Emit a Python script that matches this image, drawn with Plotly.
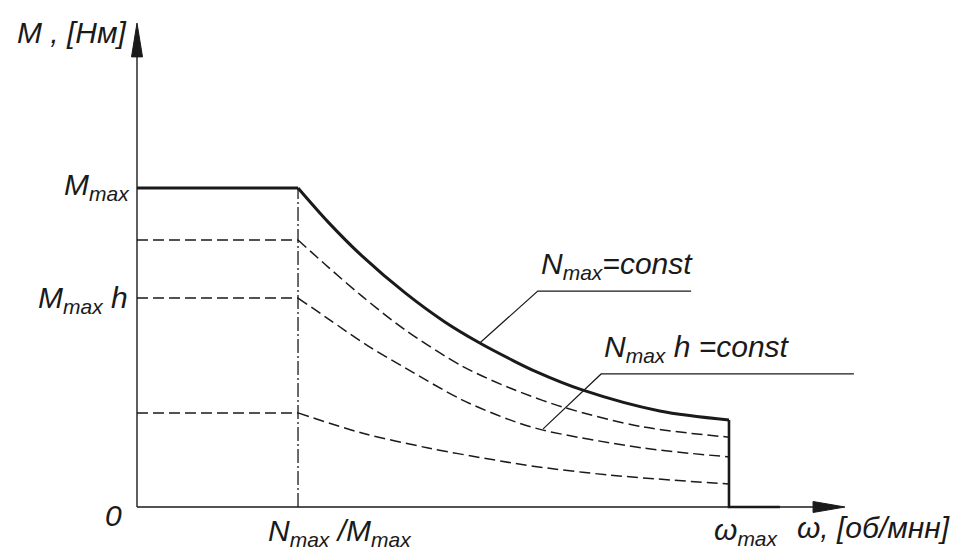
import plotly.graph_objects as go

# ---------------- data ----------------
M_max = 100.0            # torque level M_max
omega_knee = 27.2        # N_max / M_max
omega_max = 100.0        # ω_max
omega_axis_end = 108.6   # end of bold segment on ω axis

# full power curve N_max = const
full_omega = [27.2, 32.3, 38.0, 45.3, 52.0, 57.9, 63.0, 67.2, 75.2, 88.3, 100.0]
full_M = [100.0, 89.3, 78.7, 67.1, 58.0, 51.4, 46.4, 42.6, 36.7, 30.1, 27.3]

# partial power curves N_max h = const (dashed)
h1_omega = [27.2, 32.3, 38.0, 45.3, 54.9, 63.0, 72.0, 85.5, 100.0]
h1_M = [83.7, 75.2, 66.1, 55.5, 44.2, 37.3, 31.3, 25.1, 21.9]

h2_omega = [27.2, 32.3, 39.0, 45.3, 54.9, 63.0, 68.6, 85.5, 100.0]
h2_M = [65.5, 59.0, 50.5, 43.6, 33.6, 27.3, 24.1, 18.5, 15.7]

h3_omega = [27.2, 38.0, 49.2, 60.5, 66.9, 79.9, 100.0]
h3_M = [29.5, 23.2, 18.5, 14.7, 12.8, 10.0, 7.2]

# leader lines for the curve labels
leader_full_omega = [57.9, 67.7, 93.6]
leader_full_M = [51.4, 67.7, 67.7]
leader_h_omega = [68.6, 78.4, 121.1]
leader_h_M = [24.5, 41.7, 41.7]

# axis extents
omega_arrow_base, omega_arrow_tip = 114.2, 119.6
M_arrow_base, M_arrow_tip = 141.1, 151.7

# ---------------- figure ----------------
INK = "#1a1a1a"
THIN = 1.5
BOLD = 3.0
DASH = "11px,5px"
FONT = "Liberation Sans, Arial, sans-serif"

fig = go.Figure()


def add_line(x, y, width=THIN, dash="solid", shape="linear", color=INK):
    fig.add_trace(go.Scatter(
        x=x, y=y, mode="lines",
        line=dict(color=color, width=width, dash=dash, shape=shape, smoothing=0.9),
        hoverinfo="skip", showlegend=False, cliponaxis=False))


# axes (drawn as lines)
add_line([0, 0], [0, M_arrow_base], width=1.4)
add_line([0, omega_arrow_base], [0, 0], width=1.4)
# arrowheads
fig.add_trace(go.Scatter(
    x=[-0.93, 0, 0.93, -0.93], y=[M_arrow_base, M_arrow_tip, M_arrow_base, M_arrow_base],
    mode="lines", fill="toself", fillcolor=INK, line=dict(color=INK, width=1),
    hoverinfo="skip", showlegend=False))
fig.add_trace(go.Scatter(
    x=[omega_arrow_base, omega_arrow_tip, omega_arrow_base, omega_arrow_base],
    y=[1.72, 0, -1.72, 1.72],
    mode="lines", fill="toself", fillcolor=INK, line=dict(color=INK, width=1),
    hoverinfo="skip", showlegend=False))

# dash-dot vertical at N_max/M_max
add_line([omega_knee, omega_knee], [0, M_max], width=1.3, dash="14px,3px,2px,3px")

# dashed partial-power characteristics
for om, mm in [(h1_omega, h1_M), (h2_omega, h2_M), (h3_omega, h3_M)]:
    add_line([0, omega_knee], [mm[0], mm[0]], dash=DASH)
    add_line(om, mm, dash=DASH, shape="spline")

# full characteristic (bold)
add_line([0, omega_knee], [M_max, M_max], width=BOLD)
add_line(full_omega, full_M, width=BOLD, shape="spline")
add_line([omega_max, omega_max, omega_axis_end], [full_M[-1], 0, 0], width=2.6)

# leader lines
add_line(leader_full_omega, leader_full_M, width=1.2)
add_line(leader_h_omega, leader_h_M, width=1.2)

# ---------------- labels ----------------
fsize = 30


def label(text, x, y, xanchor, yanchor, xshift=0, yshift=0, size=fsize):
    fig.add_annotation(
        text=text, x=x, y=y, xref="x", yref="y", showarrow=False,
        xanchor=xanchor, yanchor=yanchor, xshift=xshift, yshift=yshift,
        font=dict(family=FONT, size=size, color=INK, style="italic"),
        borderpad=0)


label("M , [Нм]", 0, 148.0, "right", "middle", xshift=-9, yshift=2)
label("M<sub>max</sub>", 0, M_max, "right", "middle", xshift=-6, yshift=1)
label("M<sub>max</sub> h", 0, h2_M[0], "right", "middle", xshift=-8, yshift=-1)
label("0", 0, 0, "right", "middle", xshift=-14, yshift=-8)
label("N<sub>max</sub> /M<sub>max</sub>", omega_knee, 0, "left", "top", xshift=-31, yshift=-6)
label("ω<sub>max</sub>", omega_max, 0, "left", "top", xshift=-16, yshift=-5)
label("ω, [об/мнн]", 111.7, 0, "left", "top", xshift=-2, yshift=-3)
label("N<sub>max</sub>=const", leader_full_omega[1], leader_full_M[1], "left", "bottom",
      xshift=2, yshift=6)
label("N<sub>max</sub> h =const", leader_h_omega[1], leader_h_M[1], "left", "bottom",
      xshift=2, yshift=6)

fig.update_layout(
    width=967, height=550,
    margin=dict(l=107, r=107, t=20, b=27),
    plot_bgcolor="white", paper_bgcolor="white",
    xaxis=dict(range=[-5.068, 122.13], visible=False, fixedrange=True),
    yaxis=dict(range=[-5.016, 152.66], visible=False, fixedrange=True),
    showlegend=False,
)

fig.write_html("out.html", config={"displayModeBar": False},
               post_script="document.body.style.margin='0px';")
